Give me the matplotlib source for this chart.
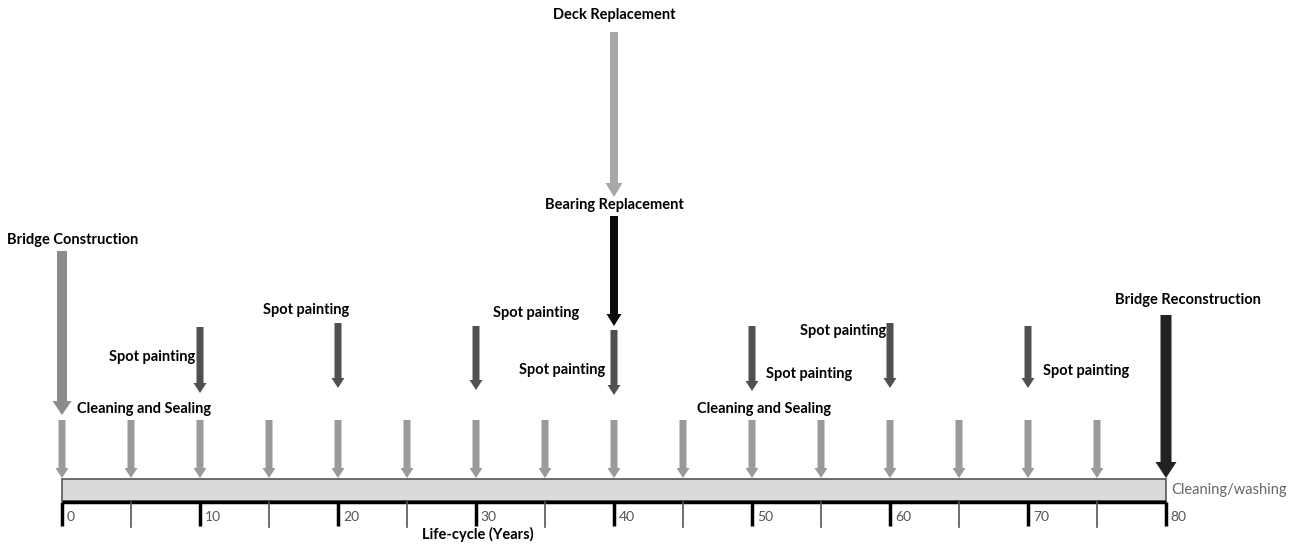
import matplotlib.pyplot as plt

# data
cleaning_years = [0, 5, 10, 15, 20, 25, 30, 35, 40, 45, 50, 55, 60, 65, 70, 75]
spot_years = [10, 20, 30, 40, 50, 60, 70]
major_ticks = [0, 10, 20, 30, 40, 50, 60, 70, 80]
minor_ticks = [5, 15, 25, 35, 45, 55, 65, 75]
sealing_years = [0, 50]
life_span = 80

plt.rcParams['font.family'] = ['Lato', 'DejaVu Sans']

fig = plt.figure(figsize=(13.02, 5.46), dpi=100)
ax = fig.add_axes([0, 0, 1, 1])
px = 13.8  # pixels per year
x0 = 62    # pixel of year 0
ax.set_xlim(-x0 / px, (1302 - x0) / px)
ax.set_ylim(546, 0)
ax.axis('off')


def pxx(p):
    # pixel column -> years, for placing labels
    return (p - x0) / px


def down_arrow(x, top, bottom, color, w, hw, hl=10):
    ax.arrow(x, top, 0, bottom - top, width=w / px, head_width=hw / px,
             head_length=hl, length_includes_head=True, color=color, lw=0)


def label(x, y, s, ha='left', size=10.5):
    ax.text(x, y, s, fontsize=size, fontweight='bold', va='center', ha=ha)


# timeline bar
ax.add_patch(plt.Rectangle((0, 479), life_span, 22, facecolor='#dadada',
                           edgecolor='#555555', lw=1.2))
ax.plot([0, life_span], [502, 502], color='black', lw=2.5, solid_capstyle='butt')
for t in major_ticks:
    ax.plot([t, t], [502, 526], color='black', lw=2.5, solid_capstyle='butt')
    ax.text(t + 0.35, 517, str(t), fontsize=10, color='#555555', va='center', ha='left')
for t in minor_ticks:
    ax.plot([t, t], [502, 527], color='#555555', lw=1.2)
label(pxx(478), 534, 'Life-cycle (Years)', ha='center')
ax.text(life_span + 0.35, 490, 'Cleaning/washing', fontsize=10.5, color='#666666',
        va='center', ha='left')

# cleaning/washing arrows
for y in cleaning_years:
    down_arrow(y, 420, 478, '#9a9a9a', 7, 13, 10)

# bridge construction
down_arrow(0, 251, 415, '#8c8c8c', 10, 19, 14)
label(pxx(7), 240, 'Bridge Construction')

# cleaning and sealing labels
for y, lx in zip(sealing_years, [77, 697]):
    label(pxx(lx), 409, 'Cleaning and Sealing')

# spot painting
tops = [327, 323, 326, 330, 326, 323, 326]
bottoms = [393, 388, 390, 395, 391, 388, 388]
lab_pos = [(195, 357, 'right'), (306, 310, 'center'), (536, 313, 'center'),
           (605, 370, 'right'), (766, 374, 'left'), (886, 331, 'right'),
           (1043, 371, 'left')]
for y, t, b, (lx, ly, ha) in zip(spot_years, tops, bottoms, lab_pos):
    down_arrow(y, t, b, '#505050', 7, 13, 10)
    label(pxx(lx), ly, 'Spot painting', ha=ha)

# deck and bearing replacement
down_arrow(40, 32, 197, '#a8a8a8', 8, 17, 14)
label(40, 15, 'Deck Replacement', ha='center')
down_arrow(40, 216, 326, '#0a0a0a', 8, 15, 12)
label(40, 205, 'Bearing Replacement', ha='center')

# bridge reconstruction
down_arrow(80, 315, 478, '#222222', 11, 21, 16)
label(pxx(1188), 300, 'Bridge Reconstruction', ha='center')

fig.savefig('out.png', dpi=100, facecolor='white')
